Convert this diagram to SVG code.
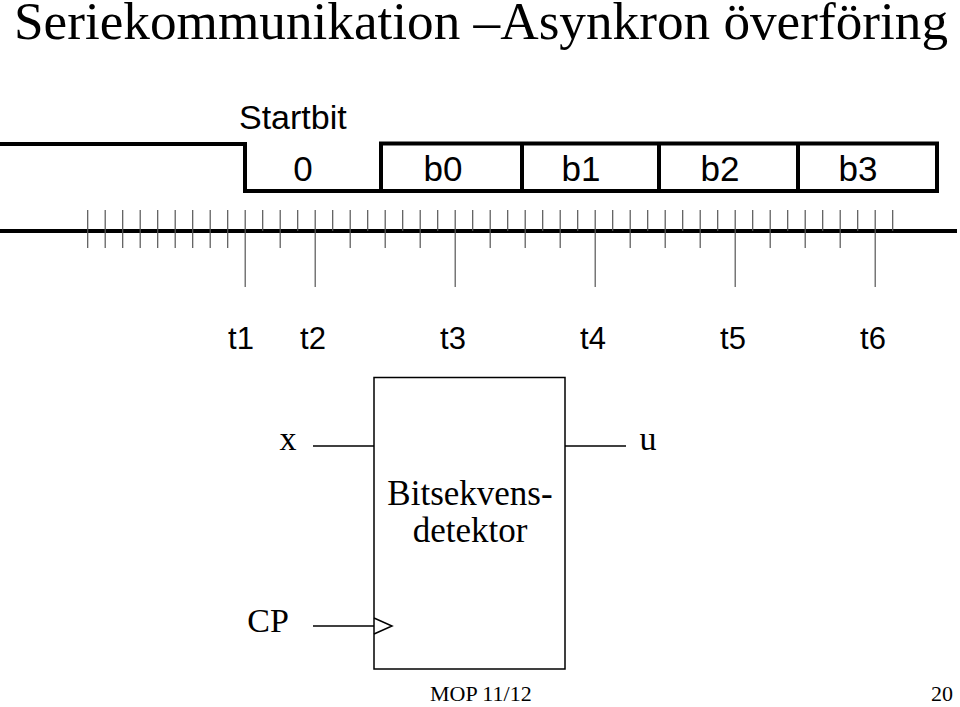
<svg xmlns="http://www.w3.org/2000/svg" width="960" height="707" viewBox="0 0 960 707">
<style>
.serif{font-family:"Liberation Serif","Times New Roman",serif;fill:#000}
.sans{font-family:"Liberation Sans",Arial,sans-serif;fill:#000}
.thick{stroke:#000;stroke-width:4;fill:none}
.tick{stroke:#555;stroke-width:1.2}
.wire{stroke:#000;stroke-width:1.5;fill:none}
</style>
<rect width="960" height="707" fill="#fff"/>
<text id="title" class="serif" x="14" y="39" font-size="52" textLength="934" lengthAdjust="spacingAndGlyphs">Seriekommunikation –Asynkron överföring</text>

<g id="waveform">
<path class="thick" d="M0,144 H245 V191 H381 M381,191 V143.5 H937 V191 H381"/>
<path class="thick" d="M522,143.5 V191 M659,143.5 V191 M798,143.5 V191"/>
<text class="sans" x="239" y="129" font-size="34">Startbit</text>
<g class="sans" font-size="35" text-anchor="middle">
<text x="303" y="181">0</text>
<text x="443" y="181">b0</text>
<text x="581" y="181">b1</text>
<text x="720" y="181">b2</text>
<text x="858" y="181">b3</text>
</g>
</g>

<g id="timeaxis">
<line class="thick" x1="0" y1="231" x2="957" y2="231"/>
<g class="tick">
<path d="M87.7,210V248 M105.2,210V248 M122.7,210V248 M140.2,210V248 M157.7,210V248 M175.2,210V248 M192.7,210V248 M210.2,210V248 M227.7,210V248"/>
<path d="M245.2,210V287 M315.2,210V287 M455.2,210V287 M595.2,210V287 M735.2,210V287 M875.2,210V287"/>
<path d="M280.2,210V248 M350.2,210V248 M385.2,210V248 M420.2,210V248 M490.2,210V248 M525.2,210V248 M560.2,210V248 M630.2,210V248 M665.2,210V248 M700.2,210V248 M770.2,210V248 M805.2,210V248 M840.2,210V248"/>
<path d="M262.7,210V231 M297.7,210V231 M332.7,210V231 M367.7,210V231 M402.7,210V231 M437.7,210V231 M472.7,210V231 M507.7,210V231 M542.7,210V231 M577.7,210V231 M612.7,210V231 M647.7,210V231 M682.7,210V231 M717.7,210V231 M752.7,210V231 M787.7,210V231 M822.7,210V231 M857.7,210V231 M892.7,210V231"/>
</g>
<g class="sans" font-size="31" text-anchor="middle">
<text x="241" y="349">t1</text>
<text x="313" y="349">t2</text>
<text x="453" y="349">t3</text>
<text x="593" y="349">t4</text>
<text x="733" y="349">t5</text>
<text x="873" y="349">t6</text>
</g>
</g>

<g id="detector">
<rect x="374" y="377.5" width="191" height="291.5" fill="#fff" stroke="#000" stroke-width="1.5"/>
<g class="serif" font-size="35" text-anchor="middle">
<text x="470" y="505">Bitsekvens-</text>
<text x="470" y="542">detektor</text>
</g>
</g>

<g id="connectors">
<line class="wire" x1="313" y1="446" x2="374" y2="446"/>
<line class="wire" x1="565" y1="446" x2="626" y2="446"/>
<line class="wire" x1="313" y1="626" x2="374" y2="626"/>
<path class="wire" d="M374,618 L392,626 L374,634"/>
</g>

<g id="labels" class="serif" font-size="34">
<text x="288" y="450" text-anchor="middle">x</text>
<text x="648" y="450" text-anchor="middle">u</text>
<text x="268" y="632" text-anchor="middle">CP</text>
</g>

<g id="footer" class="serif" font-size="22">
<text x="430" y="701">MOP 11/12</text>
<text x="953" y="701" text-anchor="end">20</text>
</g>
</svg>
